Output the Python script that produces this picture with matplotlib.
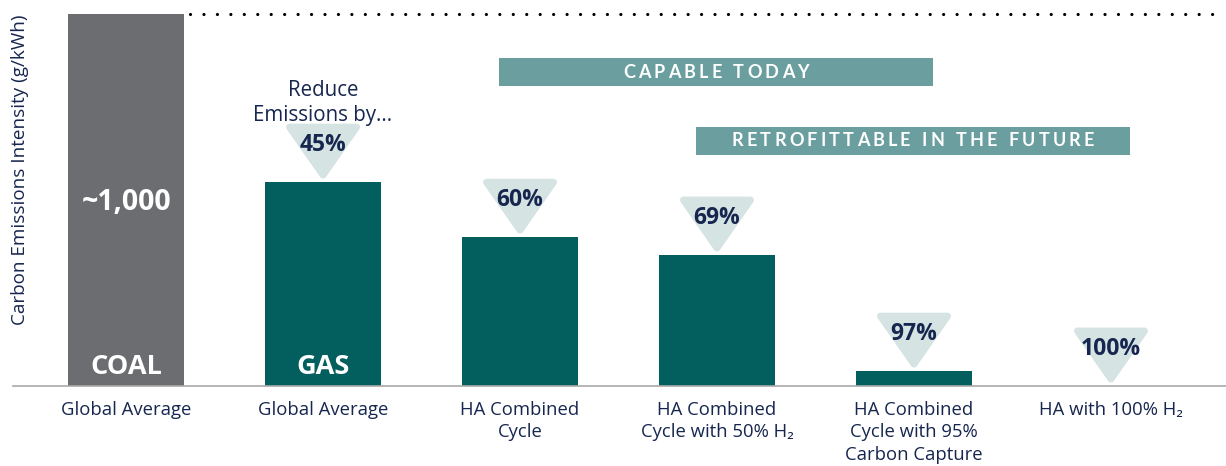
import matplotlib
matplotlib.use("Agg")
import matplotlib.pyplot as plt
from matplotlib.patches import Polygon, Rectangle
from matplotlib.font_manager import FontProperties

# ---------------- data ----------------
categories = ["Global Average", "Global Average", "HA Combined\nCycle",
              "HA Combined\nCycle with 50% H\u2082",
              "HA Combined\nCycle with 95%\nCarbon Capture",
              "HA with 100% H\u2082"]
values = [1000, 548, 400, 352, 40, 0]
bar_names = ["COAL", "GAS", "", "", "", ""]
bar_value_text = ["~1,000", "", "", "", "", ""]
reductions = ["", "45%", "60%", "69%", "97%", "100%"]
intro_text = "Reduce\nEmissions by..."
banner_texts = ["CAPABLE TODAY", "RETROFITTABLE IN THE FUTURE"]
ylabel = "Carbon Emissions Intensity (g/kWh)"

# ---------------- style ----------------
NAVY = "#16264f"
COAL_C = "#6c6d71"
TEAL = "#025f5e"
TRI_C = "#d6e3e3"
BANNER_C = "#6a9e9f"
FONT = ["Open Sans", "DejaVu Sans"]

W, H = 1226, 466
fig = plt.figure(figsize=(W / 100, H / 100), dpi=100)
ax = fig.add_axes([13 / W, 80 / H, (W - 13) / W, 372 / H])
ax.set_xlim(-0.574, 5.584)
ax.set_ylim(0, 1000)

x = list(range(len(categories)))
colors = [COAL_C] + [TEAL] * (len(categories) - 1)
ax.bar(x, values, width=0.589, color=colors, zorder=2)

for s in ["top", "right", "left"]:
    ax.spines[s].set_visible(False)
ax.spines["bottom"].set_color("#a9a9a9")
ax.spines["bottom"].set_linewidth(1.2)
ax.set_yticks([])
ax.set_xticks(x)
ax.set_xticklabels(categories, fontsize=13.3, color=NAVY, family=FONT,
                   linespacing=1.3)
ax.tick_params(axis="x", length=0, pad=11)

# dotted reference line at coal level
ax.plot([0.325, 5.54], [values[0], values[0]], color="black", lw=2.3,
        linestyle=(0, (0.01, 4.2)), dash_capstyle="round", clip_on=False, zorder=3)

# y label
fig.text(20 / W, 1 - 170 / H, ylabel, rotation=90, ha="center", va="center",
         fontsize=13.6, color=NAVY, family=FONT)

# text inside bars
for xi, name, vt in zip(x, bar_names, bar_value_text):
    if name:
        ax.text(xi, 51, name, ha="center", va="center", color="white",
                fontsize=19.5, fontweight="bold", family=FONT, zorder=4)
    if vt:
        ax.text(xi, 492, vt, ha="center", va="center", color="white",
                fontsize=20.5, fontweight="bold", family=FONT, zorder=4)

# reduction markers (rounded down-pointing triangles)
px = 1000 / 372.0  # data units per pixel (y)
pxx = 1 / 197.0     # data units per pixel (x)
tw, th = 67, 48     # inner triangle size in px
for xi, v, r in zip(x, values, reductions):
    if not r:
        continue
    tip = v + 7 * px
    top = tip + th * px
    tri = Polygon([(xi - tw / 2 * pxx, top), (xi + tw / 2 * pxx, top), (xi, tip)],
                  closed=True, facecolor=TRI_C, edgecolor=TRI_C, lw=5,
                  joinstyle="round", zorder=3)
    ax.add_patch(tri)
    ax.text(xi, top - 18 * px, r, ha="center", va="center", color=NAVY,
            fontsize=16.5, fontweight="bold", family=FONT, zorder=5)

# intro text above first reduction
ax.text(1, (386 - 103) * px, intro_text, ha="center", va="center", color=NAVY,
        fontsize=14.8, family=FONT, linespacing=1.25, zorder=6)

# banners
banners = [((499, 58, 933, 86), banner_texts[0]),
           ((696, 127, 1130, 155), banner_texts[1])]
fig.canvas.draw()
renderer = fig.canvas.get_renderer()
bprop = FontProperties(family=["Lato", "DejaVu Sans"], weight="bold", size=13)
for (x0, y0, x1, y1), t in banners:
    fig.add_artist(Rectangle((x0 / W, 1 - y1 / H), (x1 - x0) / W, (y1 - y0) / H,
                             transform=fig.transFigure, facecolor=BANNER_C,
                             edgecolor="none", zorder=1))
    spacing = 3.2
    widths = []
    for ch in t:
        if ch == " ":
            widths.append(5.0)
        else:
            w_, h_, d_ = renderer.get_text_width_height_descent(ch, bprop, ismath=False)
            widths.append(w_)
    total = sum(widths) + spacing * (len(t) - 1)
    cx = (x0 + x1) / 2
    cy = (y0 + y1) / 2
    cur = cx - total / 2
    for ch, w_ in zip(t, widths):
        if ch != " ":
            fig.text((cur + w_ / 2) / W, 1 - cy / H, ch, ha="center", va="center",
                     color="white", fontproperties=bprop, zorder=2)
        cur += w_ + spacing

fig.savefig("out.png", dpi=100)
